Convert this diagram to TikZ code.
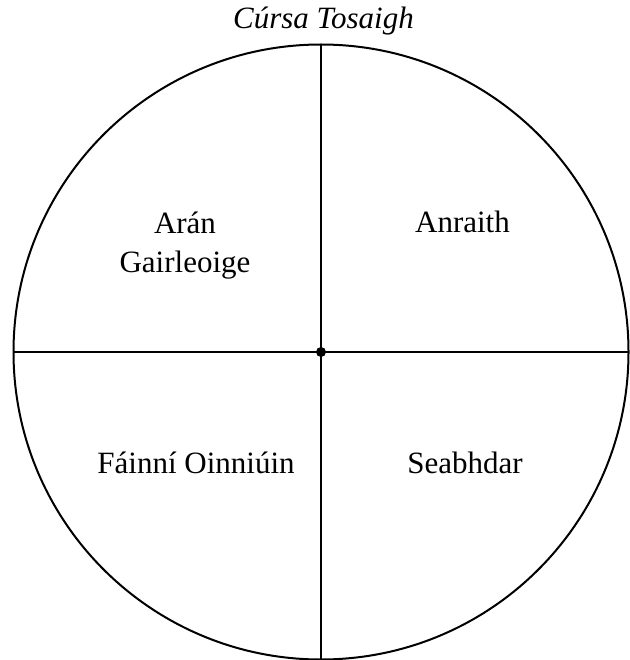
\documentclass[tikz,border=0pt]{standalone}
\usepackage{fontspec}
\setmainfont{Liberation Serif}
\newfontfamily\menufont{Liberation Serif}
\usetikzlibrary{calc}
\newcommand{\plateR}{307.5}

\begin{document}
\begin{tikzpicture}[x=1pt,y=-1pt,line width=2pt]
\tikzset{dish/.style={font=\menufont\fontsize{31}{39}\selectfont,anchor=base,align=center}}
\useasboundingbox (0,0) rectangle (629,660);
% ---------- the plate ----------
\coordinate (O) at (321,352);
\coordinate (N) at ($(O)+(0,-\plateR)$);
\coordinate (S) at ($(O)+(0,\plateR)$);
\coordinate (W) at ($(O)+(-\plateR,0)$);
\coordinate (E) at ($(O)+(\plateR,0)$);
\draw (O) circle (\plateR);
\draw (N) -- (S);
\draw (W) -- (E);
\fill (O) circle (5);
% ---------- title and courses ----------
\node[dish,font=\menufont\fontsize{31}{39}\selectfont\itshape] (title) at (323.5,29) {Cúrsa Tosaigh};
\node[dish] (aran) at (185,272) {Arán\\Gairleoige};
\node[dish] (anraith) at (462.5,233) {Anraith};
\node[dish] (fainni) at (196,473) {Fáinní Oinniúin};
\node[dish] (seabhdar) at (465,473) {Seabhdar};
\end{tikzpicture}
\end{document}
